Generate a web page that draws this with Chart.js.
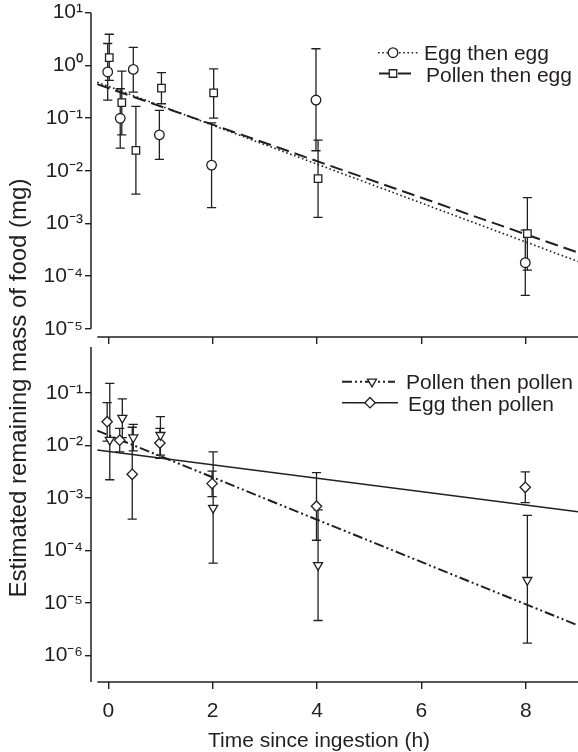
<!DOCTYPE html>
<html><head><meta charset="utf-8">
<script src="https://cdn.jsdelivr.net/npm/chart.js@4/dist/chart.umd.min.js"></script>
<style>
html,body{margin:0;padding:0;background:#fff;}
#wrap{position:relative;width:578px;height:752px;overflow:hidden;}
canvas{position:absolute;left:0;top:0;}
</style></head><body>
<div id="wrap"><canvas id="topc" width="578" height="752"></canvas><canvas id="botc" width="578" height="752"></canvas></div>
<script>
// ---------- data ----------
const xTickValues = [0, 2, 4, 6, 8];
const topYTickValues = [1e-5, 1e-4, 1e-3, 1e-2, 1e-1, 1e0, 1e1];
const botYTickValues = [1e-6, 1e-5, 1e-4, 1e-3, 1e-2, 1e-1];

const seriesNames = ["Egg then egg", "Pollen then egg", "Pollen then pollen", "Egg then pollen"];

// Egg then egg (circles)
const eggEggTime  = [-0.01, 0.23, 0.48, 0.98, 1.98, 3.98, 7.99];
const eggEggMass  = [0.75, 0.099, 0.84, 0.048, 0.0128, 0.22, 1.8e-4];
const eggEggLow   = [0.22, 0.027, 0.31, 0.0165, 0.0020, 0.024, 4.3e-5];
const eggEggHigh  = [2.6, 0.36, 2.2, 0.14, 0.081, 2.07, 7.5e-4];

// Pollen then egg (squares)
const polEggTime  = [0.02, 0.26, 0.53, 1.02, 2.02, 4.02, 8.03];
const polEggMass  = [1.4, 0.196, 0.0244, 0.37, 0.30, 0.0071, 6.4e-4];
const polEggLow   = [0.52, 0.048, 0.0036, 0.187, 0.10, 0.0013, 1.3e-4];
const polEggHigh  = [3.9, 0.78, 0.167, 0.73, 0.86, 0.038, 3.1e-3];

// Pollen then pollen (down triangles)
const polPolTime  = [0.03, 0.27, 0.48, 1.00, 2.01, 4.02, 8.03];
const polPolMass  = [0.0126, 0.033, 0.014, 0.0156, 6.4e-4, 5.2e-5, 2.7e-5];
const polPolLow   = [0.0022, 0.014, 0.0078, 0.0065, 5.7e-5, 4.6e-6, 1.7e-6];
const polPolHigh  = [0.151, 0.076, 0.025, 0.035, 0.0075, 5.9e-4, 4.6e-4];

// Egg then pollen (diamonds)
const eggPolTime  = [-0.02, 0.22, 0.46, 0.99, 1.99, 3.99, 7.99];
const eggPolMass  = [0.028, 0.0125, 0.0028, 0.011, 0.00186, 6.9e-4, 0.00158];
const eggPolLow   = [0.012, 0.0075, 3.9e-4, 0.0056, 0.00105, 1.55e-4, 8.1e-4];
const eggPolHigh  = [0.065, 0.021, 0.022, 0.021, 0.0032, 0.0030, 0.0031];

// fitted decay lines (end points)
const fitTime     = [-0.21, 9.0];
const eggEggFit   = [0.48, 1.9e-4];
const polEggFit   = [0.44, 2.8e-4];
const polPolFit   = [0.019, 3.7e-6];
const eggPolFit   = [0.0081, 5.4e-4];

// ---------- style ----------
const INK = '#231f20';
const FAMILY = "'Liberation Sans', Arial, Helvetica, sans-serif";
const FONT_PX = 21;
const YTITLE_PX = 24;
Chart.defaults.font.family = FAMILY;
Chart.defaults.font.size = FONT_PX;
Chart.defaults.color = INK;

const SUP = {'-':'\u207B','0':'\u2070','1':'\u00B9','2':'\u00B2','3':'\u00B3','4':'\u2074','5':'\u2075','6':'\u2076','7':'\u2077','8':'\u2078','9':'\u2079'};
function powLabel(v){
  const e = String(Math.round(Math.log10(v)));
  return '10' + e.split('').map(c => SUP[c]).join('');
}
const pts = (t, m) => t.map((x, i) => ({x: x, y: m[i]}));

const STYLES = {
  eggEgg: {pointStyle:'circle', radius:4.8, rot:0, dash:[1.6,2.6], lw:1.6},
  polEgg: {pointStyle:'rect', radius:5.3, rot:0, dash:[13,6], lw:2},
  polPol: {pointStyle:'triangle', radius:5.2, rot:180, dash:[10,3,2,3,2,3], lw:2},
  eggPol: {pointStyle:'rectRot', radius:5.2, rot:0, dash:[], lw:1.6}
};

function markerDS(label, t, m, st){
  return {type:'scatter', label: label, data: pts(t, m), showLine:false, order:0,
    pointStyle: st.pointStyle, pointRadius: st.radius, pointRotation: st.rot,
    pointBackgroundColor:'#fff', pointBorderColor: INK, pointBorderWidth:1.3, pointHoverRadius: st.radius};
}
function fitDS(label, fit, st){
  return {type:'line', label: label + ' fit', data: pts(fitTime, fit), showLine:true, order:1,
    borderColor: INK, borderWidth: st.lw, borderDash: st.dash, borderCapStyle:'butt',
    pointRadius:0, fill:false, tension:0};
}

function drawMarker(ctx, st, x, y){
  ctx.save();
  ctx.fillStyle = '#fff'; ctx.strokeStyle = INK; ctx.lineWidth = 1.3; ctx.setLineDash([]);
  Chart.helpers.drawPoint(ctx, {pointStyle: st.pointStyle, rotation: st.rot, radius: st.radius, borderWidth: 1.3}, x, y);
  ctx.restore();
}

// plugin: axis lines, error bars, legend, titles
function makeDecor(cfg){
  return {
    id: 'decor',
    beforeDatasetsDraw(chart){
      const ctx = chart.ctx, xs = chart.scales.x, ys = chart.scales.y, ca = chart.chartArea;
      ctx.save();
      ctx.strokeStyle = INK; ctx.lineWidth = 1.3; ctx.setLineDash([]);
      cfg.errors.forEach(s => {
        s.t.forEach((t, i) => {
          const px = xs.getPixelForValue(t);
          const lo = ys.getPixelForValue(s.lo[i]), hi = ys.getPixelForValue(s.hi[i]);
          ctx.beginPath();
          ctx.moveTo(px, lo); ctx.lineTo(px, hi);
          ctx.moveTo(px - 4.6, lo); ctx.lineTo(px + 4.6, lo);
          ctx.moveTo(px - 4.6, hi); ctx.lineTo(px + 4.6, hi);
          ctx.stroke();
        });
      });
      ctx.lineWidth = 1.5;
      ctx.beginPath();
      const yTop = ys.getPixelForValue(cfg.yAxisSpan[1]), yBot = ys.getPixelForValue(cfg.yAxisSpan[0]);
      ctx.moveTo(ca.left, yTop); ctx.lineTo(ca.left, yBot);
      const xL = xs.getPixelForValue(cfg.xAxisStart);
      ctx.moveTo(xL, ca.bottom); ctx.lineTo(chart.width, ca.bottom);
      ctx.stroke();
      ctx.restore();
    },
    afterDraw(chart){
      const ctx = chart.ctx;
      ctx.save();
      cfg.legend.forEach(it => {
        const ds = chart.data.datasets[it.ds];
        const st = it.st;
        ctx.strokeStyle = INK; ctx.lineWidth = st.lw; ctx.setLineDash(st.dash); ctx.lineCap = 'butt';
        ctx.beginPath(); ctx.moveTo(it.x1, it.y); ctx.lineTo(it.x2, it.y); ctx.stroke();
        ctx.setLineDash([]);
        drawMarker(ctx, st, it.mx, it.y);
        ctx.fillStyle = INK; ctx.font = FONT_PX + 'px ' + FAMILY;
        ctx.textAlign = 'left'; ctx.textBaseline = 'alphabetic';
        ctx.fillText(ds.label, it.tx, it.ty);
      });
      (cfg.titles || []).forEach(tt => {
        ctx.save();
        ctx.fillStyle = INK; ctx.font = tt.size + 'px ' + FAMILY;
        ctx.textAlign = 'center'; ctx.textBaseline = 'alphabetic';
        ctx.translate(tt.x, tt.y); ctx.rotate(tt.rot || 0);
        ctx.fillText(tt.text, 0, 0);
        ctx.restore();
      });
      ctx.restore();
    }
  };
}

function makeChart(canvasId, o){
  return new Chart(document.getElementById(canvasId), {
    type: 'scatter',
    data: { datasets: o.datasets },
    options: {
      responsive: false, animation: false, devicePixelRatio: 1,
      layout: { padding: o.padding, autoPadding: false },
      plugins: { legend: {display:false}, tooltip: {enabled:false} },
      scales: {
        x: {
          type: 'linear', position: 'bottom', min: -0.33, max: 9.0,
          afterBuildTicks: s => { s.ticks = xTickValues.map(v => ({value: v})); },
          afterFit: s => { s.height = o.xHeight; s.paddingLeft = 0; s.paddingRight = 0; },
          ticks: { display: o.xLabels, padding: 10, color: INK, font: {size: FONT_PX}, maxRotation: 0 },
          grid: { drawOnChartArea: false, drawTicks: true, tickLength: 7, color: INK, lineWidth: 1.4 },
          border: { display: false }
        },
        y: {
          type: 'logarithmic', position: 'left', min: o.yMin, max: o.yMax,
          afterBuildTicks: s => { s.ticks = o.yTicks.map(v => ({value: v})); },
          afterFit: s => { s.width = 91; s.paddingTop = 0; s.paddingBottom = 0; },
          ticks: { callback: v => powLabel(v), padding: 2, color: INK, font: {size: FONT_PX}, autoSkip: false },
          grid: { drawOnChartArea: false, drawTicks: true, tickLength: 6, color: INK, lineWidth: 1.4 },
          border: { display: false }
        }
      }
    },
    plugins: [makeDecor(o.decor)]
  });
}

// ---------- top panel ----------
makeChart('topc', {
  padding: {top: 12.7, bottom: 405, left: 0, right: 0},
  xHeight: 10, xLabels: false,
  yMin: 7.0e-6, yMax: 10, yTicks: topYTickValues,
  datasets: [
    markerDS(seriesNames[0], eggEggTime, eggEggMass, STYLES.eggEgg),
    markerDS(seriesNames[1], polEggTime, polEggMass, STYLES.polEgg),
    fitDS(seriesNames[0], eggEggFit, STYLES.eggEgg),
    fitDS(seriesNames[1], polEggFit, STYLES.polEgg)
  ],
  decor: {
    yAxisSpan: [1e-5, 1e1], xAxisStart: -0.21,
    errors: [
      {t: eggEggTime, lo: eggEggLow, hi: eggEggHigh},
      {t: polEggTime, lo: polEggLow, hi: polEggHigh}
    ],
    legend: [
      {ds: 0, st: STYLES.eggEgg, x1: 378, x2: 420, mx: 393, y: 52.7, tx: 424, ty: 59.5},
      {ds: 1, st: STYLES.polEgg, x1: 379, x2: 413, mx: 393, y: 73.5, tx: 426, ty: 81.5}
    ]
  }
});

// ---------- bottom panel ----------
makeChart('botc', {
  padding: {top: 347, bottom: 0, left: 0, right: 0},
  xHeight: 70, xLabels: true,
  yMin: 3.1e-7, yMax: 0.742, yTicks: botYTickValues,
  datasets: [
    markerDS(seriesNames[2], polPolTime, polPolMass, STYLES.polPol),
    markerDS(seriesNames[3], eggPolTime, eggPolMass, STYLES.eggPol),
    fitDS(seriesNames[2], polPolFit, STYLES.polPol),
    fitDS(seriesNames[3], eggPolFit, STYLES.eggPol)
  ],
  decor: {
    yAxisSpan: [3.1e-7, 0.742], xAxisStart: -0.21,
    errors: [
      {t: polPolTime, lo: polPolLow, hi: polPolHigh},
      {t: eggPolTime, lo: eggPolLow, hi: eggPolHigh}
    ],
    legend: [
      {ds: 0, st: STYLES.polPol, x1: 342, x2: 395, mx: 372, y: 381.7, tx: 406, ty: 388.5},
      {ds: 1, st: STYLES.eggPol, x1: 342, x2: 398, mx: 370, y: 402.7, tx: 408, ty: 410.5}
    ],
    titles: [
      {text: 'Time since ingestion (h)', size: FONT_PX, x: 319, y: 746.5, rot: 0},
      {text: 'Estimated remaining mass of food (mg)', size: YTITLE_PX, x: 26, y: 388, rot: -Math.PI / 2}
    ]
  }
});
</script>
</body></html>
